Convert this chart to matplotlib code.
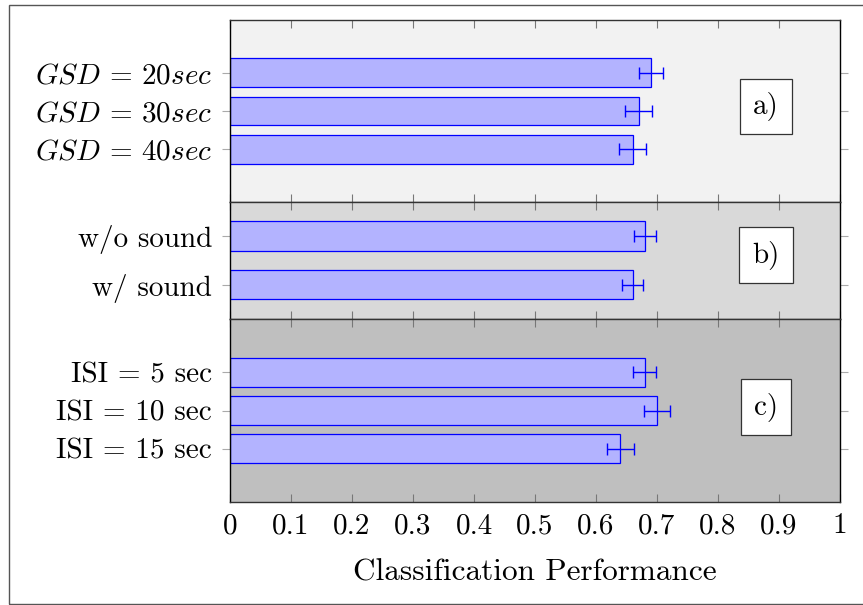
import numpy as np
import matplotlib
matplotlib.use("Agg")
import matplotlib.pyplot as plt
from matplotlib.patches import Rectangle

plt.rcParams['font.family'] = ['cmr10']
plt.rcParams['mathtext.fontset'] = 'cm'
plt.rcParams['axes.formatter.use_mathtext'] = True

# ---- data ----
labels_a = [r'$GSD\,=\,20sec$', r'$GSD\,=\,30sec$', r'$GSD\,=\,40sec$']
values_a = [0.69, 0.67, 0.66]
errors_a = [0.020, 0.022, 0.022]

labels_b = ['w/o sound', 'w/ sound']
values_b = [0.68, 0.66]
errors_b = [0.018, 0.017]

labels_c = ['ISI = 5 sec', 'ISI = 10 sec', 'ISI = 15 sec']
values_c = [0.68, 0.70, 0.64]
errors_c = [0.019, 0.021, 0.022]

panel_tags = ['a)', 'b)', 'c)']
xticks = [0, 0.1, 0.2, 0.3, 0.4, 0.5, 0.6, 0.7, 0.8, 0.9, 1]
xticklabels = ['0', '0.1', '0.2', '0.3', '0.4', '0.5', '0.6', '0.7', '0.8', '0.9', '1']
xlabel = 'Classification Performance'

W, H = 863, 605
fig = plt.figure(figsize=(W / 100, H / 100), dpi=100)

# outer frame
fig.patches.append(Rectangle((9 / W, 1 - 604 / H), 1.0, 599 / H, transform=fig.transFigure,
                             fill=False, edgecolor='#555555', linewidth=1.0, zorder=0))

x0, x1 = 230, 840
panels = [
    dict(top=20, bot=202, labels=labels_a, vals=values_a, errs=errors_a, bg='#f2f2f2',
         margin=1.39, h=0.76, tagy=0.525),
    dict(top=202, bot=319, labels=labels_b, vals=values_b, errs=errors_b, bg='#d9d9d9',
         margin=0.70, h=0.60, tagy=0.547),
    dict(top=319, bot=502, labels=labels_c, vals=values_c, errs=errors_c, bg='#bfbfbf',
         margin=1.39, h=0.76, tagy=0.519),
]

fs = 21
axes = []
for i, p in enumerate(panels):
    ax = fig.add_axes([x0 / W, 1 - p['bot'] / H, (x1 - x0) / W, (p['bot'] - p['top']) / H])
    ax.set_facecolor(p['bg'])
    n = len(p['vals'])
    pos = np.arange(n)
    ax.barh(pos, p['vals'], height=p['h'], color='#b3b3ff', edgecolor='#0000ff',
            linewidth=0.9, zorder=2)
    ax.errorbar(p['vals'], pos, xerr=p['errs'], fmt='none', ecolor='#0000ff',
                elinewidth=1.0, capsize=4.3, capthick=1.0, zorder=3)
    ax.set_ylim(n - 1 + p['margin'], -p['margin'])
    ax.set_xlim(0, 1)
    ax.set_yticks(pos)
    ax.set_yticklabels(p['labels'], fontsize=fs)
    ax.set_xticks(xticks)
    ax.tick_params(axis='y', direction='out', length=6, width=0.8, color='#aaaaaa',
                   left=True, right=True, pad=7)
    ax.tick_params(axis='x', direction='in', length=6, width=0.8, color='#777777',
                   top=True, bottom=True)
    if i < 2:
        ax.tick_params(axis='x', labelbottom=False)
    else:
        ax.set_xticklabels(xticklabels, fontsize=fs)
        ax.tick_params(axis='x', pad=8)
        ax.set_xlabel(xlabel, fontsize=fs + 1.5, labelpad=14)
    for s in ax.spines.values():
        s.set_linewidth(1.0)
        s.set_color('black')
    ax.spines['top'].set_color('#333333')
    ax.spines['bottom'].set_color('#333333')
    ax.text(0.879, p['tagy'], panel_tags[i], transform=ax.transAxes, ha='center', va='center',
            fontsize=fs, zorder=5,
            bbox=dict(boxstyle='square,pad=0.45', facecolor='white', edgecolor='#333333',
                      linewidth=0.9))
    axes.append(ax)

fig.savefig('out.png', dpi=100)
